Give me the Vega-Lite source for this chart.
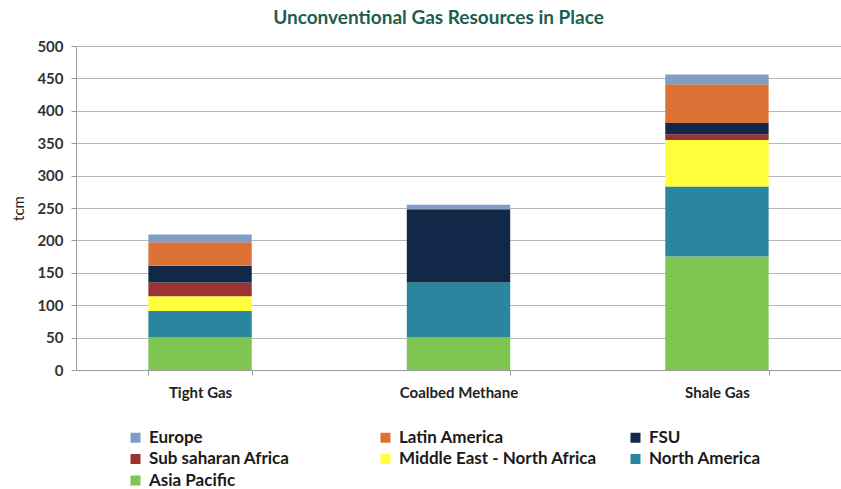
{
  "$schema": "https://vega.github.io/schema/vega-lite/v6.json",
  "width": 765,
  "height": 324,
  "autosize": {"type": "none"},
  "padding": {"left": 76, "top": 46, "right": 0, "bottom": 119},
  "background": "white",
  "title": {
    "text": "Unconventional Gas Resources in Place",
    "anchor": "middle",
    "dx": -20,
    "offset": 11,
    "fontSize": 19,
    "font": "Lato",
    "fontWeight": "bold",
    "color": "#1d5e50"
  },
  "data": {
    "values": [
      {"type": "Tight Gas", "region": "Asia Pacific", "order": 1, "value": 50},
      {"type": "Tight Gas", "region": "North America", "order": 2, "value": 41},
      {"type": "Tight Gas", "region": "Middle East - North Africa", "order": 3, "value": 23},
      {"type": "Tight Gas", "region": "Sub saharan Africa", "order": 4, "value": 21},
      {"type": "Tight Gas", "region": "FSU", "order": 5, "value": 26},
      {"type": "Tight Gas", "region": "Latin America", "order": 6, "value": 36},
      {"type": "Tight Gas", "region": "Europe", "order": 7, "value": 12},
      {"type": "Coalbed Methane", "region": "Asia Pacific", "order": 1, "value": 50},
      {"type": "Coalbed Methane", "region": "North America", "order": 2, "value": 85},
      {"type": "Coalbed Methane", "region": "Middle East - North Africa", "order": 3, "value": 0},
      {"type": "Coalbed Methane", "region": "Sub saharan Africa", "order": 4, "value": 0},
      {"type": "Coalbed Methane", "region": "FSU", "order": 5, "value": 113},
      {"type": "Coalbed Methane", "region": "Latin America", "order": 6, "value": 1},
      {"type": "Coalbed Methane", "region": "Europe", "order": 7, "value": 6},
      {"type": "Shale Gas", "region": "Asia Pacific", "order": 1, "value": 175},
      {"type": "Shale Gas", "region": "North America", "order": 2, "value": 108},
      {"type": "Shale Gas", "region": "Middle East - North Africa", "order": 3, "value": 72},
      {"type": "Shale Gas", "region": "Sub saharan Africa", "order": 4, "value": 9},
      {"type": "Shale Gas", "region": "FSU", "order": 5, "value": 17},
      {"type": "Shale Gas", "region": "Latin America", "order": 6, "value": 60},
      {"type": "Shale Gas", "region": "Europe", "order": 7, "value": 15}
    ]
  },
  "mark": {"type": "bar"},
  "encoding": {
    "x": {
      "field": "type",
      "type": "nominal",
      "sort": ["Tight Gas", "Coalbed Methane", "Shale Gas"],
      "scale": {"paddingInner": 0.6, "paddingOuter": 0.28},
      "axis": {
        "title": null,
        "labelAngle": 0,
        "tickBand": "extent",
        "labelFont": "Lato",
        "labelFontWeight": "bold",
        "labelFontSize": 15,
        "labelColor": "#222222",
        "labelPadding": 10,
        "tickSize": 5,
        "domainColor": "#999999",
        "tickColor": "#999999",
        "grid": false
      }
    },
    "y": {
      "field": "value",
      "type": "quantitative",
      "stack": "zero",
      "scale": {"domain": [0, 500]},
      "axis": {
        "values": [0, 50, 100, 150, 200, 250, 300, 350, 400, 450, 500],
        "title": "tcm",
        "titleFont": "Lato",
        "titleFontSize": 15,
        "titleFontWeight": "normal",
        "titleColor": "#222222",
        "titlePadding": 10,
        "labelFont": "Lato",
        "labelFontWeight": "bold",
        "labelFontSize": 15,
        "labelColor": "#333333",
        "labelPadding": 8,
        "tickSize": 5,
        "gridColor": "#b8b8b8",
        "domainColor": "#999999",
        "tickColor": "#999999"
      }
    },
    "color": {
      "field": "region",
      "type": "nominal",
      "scale": {
        "domain": ["Europe", "Latin America", "FSU", "Sub saharan Africa", "Middle East - North Africa", "North America", "Asia Pacific"],
        "range": ["#7f9dc9", "#dd7236", "#112849", "#9b3334", "#ffff3b", "#2a869e", "#7ec552"]
      },
      "legend": {
        "title": null,
        "orient": "none",
        "legendX": 51,
        "legendY": 383,
        "direction": "horizontal",
        "columns": 3,
        "gridAlign": "all",
        "columnPadding": 30,
        "rowPadding": 3.5,
        "symbolType": "square",
        "symbolSize": 100,
        "symbolStrokeWidth": 0,
        "labelFont": "Lato",
        "labelFontSize": 17,
        "labelFontWeight": "bold",
        "labelColor": "#1a1a1a",
        "labelOffset": 5,
        "labelLimit": 300
      }
    },
    "order": {"field": "order", "type": "quantitative", "sort": "ascending"}
  },
  "config": {"view": {"stroke": null}}
}
